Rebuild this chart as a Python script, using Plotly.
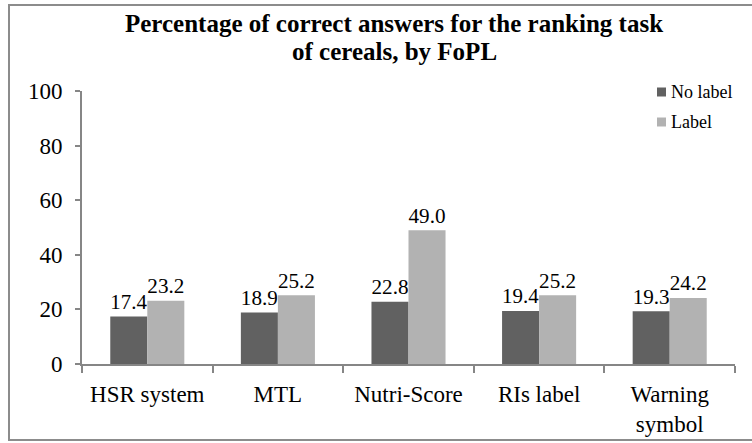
import plotly.graph_objects as go

categories = ["HSR system", "MTL", "Nutri-Score", "RIs label", "Warning<br>symbol"]
series_names = ["No label", "Label"]
no_label = [17.4, 18.9, 22.8, 19.4, 19.3]
label = [23.2, 25.2, 49.0, 25.2, 24.2]
y_ticks = [0, 20, 40, 60, 80, 100]
colors = ["#616161", "#b2b2b2"]
title_lines = ["Percentage of correct answers for the ranking task", "of cereals, by FoPL"]

FONT = "'Liberation Serif', Tinos, 'Times New Roman', Times, 'DejaVu Serif', 'Noto Serif', FreeSerif, serif"
W, H = 752, 443
L, R, T, B = 82, 17, 91, 79
pw, ph = W - L - R, H - T - B

def px_x(p):
    return (p - L) / pw

def px_y(p):
    return (H - B - p) / ph

fig = go.Figure()
for name, vals, col in zip(series_names, [no_label, label], colors):
    fig.add_trace(go.Bar(
        x=categories, y=vals, name=name, marker_color=col, marker_line_width=0,
        text=[f"{v:.1f}" for v in vals], textposition="outside",
        textfont=dict(family=FONT, size=23, color="black"), cliponaxis=False,
        hoverinfo="skip",
    ))

shapes = [dict(type="rect", xref="paper", yref="paper",
               x0=px_x(9), x1=px_x(753), y0=px_y(440), y1=px_y(5),
               line=dict(color="#8c8c8c", width=2), fillcolor="rgba(0,0,0,0)", layer="above")]
annotations = []
for i, line in enumerate(title_lines):
    annotations.append(dict(text=f"<b>{line}</b>", xref="paper", yref="paper",
                            x=px_x(394), y=px_y(23 + 28 * i), xanchor="center", yanchor="middle",
                            showarrow=False, font=dict(family=FONT, size=25, color="black")))
for i, (name, col) in enumerate(zip(series_names, colors)):
    cy = 92 + 30 * i
    shapes.append(dict(type="rect", xref="paper", yref="paper",
                       x0=px_x(657), x1=px_x(666), y0=px_y(cy + 4.5), y1=px_y(cy - 4.5),
                       line=dict(width=0), fillcolor=col))
    annotations.append(dict(text=name, xref="paper", yref="paper", x=px_x(669), y=px_y(cy),
                            xanchor="left", yanchor="middle", showarrow=False,
                            font=dict(family=FONT, size=18, color="black")))

fig.update_layout(
    width=W, height=H,
    margin=dict(l=L, r=R, t=T, b=B, autoexpand=False),
    paper_bgcolor="white", plot_bgcolor="white",
    barmode="group", bargap=0.433, bargroupgap=0,
    showlegend=False,
    font=dict(family=FONT, color="black"),
    shapes=shapes, annotations=annotations,
)
fig.update_xaxes(showline=True, linecolor="#868686", linewidth=2, ticks="outside",
                 tickson="boundaries", ticklen=7, tickcolor="#868686", tickwidth=2,
                 ticklabelstandoff=8, automargin=False,
                 tickfont=dict(family=FONT, size=23, color="black"), showgrid=False)
fig.update_yaxes(range=[0, 100], tickvals=y_ticks, showline=True, linecolor="#868686", linewidth=2,
                 ticks="outside", ticklen=5, tickcolor="#868686", tickwidth=2,
                 ticklabelstandoff=8, automargin=False,
                 tickfont=dict(family=FONT, size=23, color="black"), showgrid=False, zeroline=False)

fig.write_html("out.html", config={"displayModeBar": False},
               post_script="document.body.style.margin='0';document.body.style.overflow='hidden';")
